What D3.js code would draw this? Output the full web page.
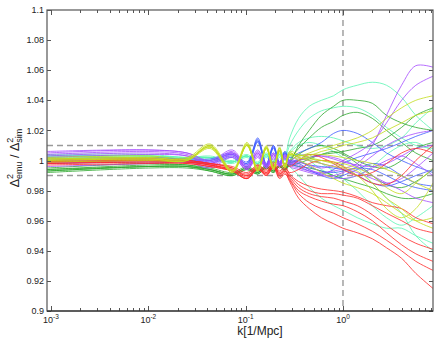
<!DOCTYPE html>
<html><head><meta charset="utf-8">
<script src="https://cdn.jsdelivr.net/npm/d3@7"></script>
<style>body{margin:0;background:#fff} text{font-family:"Liberation Sans",Arial,Helvetica,sans-serif;fill:#222}</style>
</head><body>
<svg id="c" width="436" height="342"></svg>
<script>
// k grid [1/Mpc]
const kValues = [0.00091, 0.01, 0.025, 0.043, 0.073, 0.103, 0.133, 0.163, 0.193, 0.223, 0.253, 0.283, 0.35, 0.45, 0.6, 0.8, 1.0, 1.4, 2.0, 2.8, 4.0, 5.6, 8.41];

const redLines = [
  [0.999, 1.000, 0.999, 0.997, 0.993, 0.988, 0.995, 0.990, 0.996, 0.989, 0.992, 0.986, 0.975, 0.968, 0.962, 0.958, 0.955, 0.952, 0.948, 0.942, 0.935, 0.925, 0.915],
  [0.998, 0.999, 0.998, 0.996, 0.993, 0.988, 0.994, 0.990, 0.995, 0.988, 0.991, 0.987, 0.978, 0.972, 0.968, 0.965, 0.962, 0.958, 0.953, 0.947, 0.940, 0.933, 0.927],
  [1.000, 1.001, 1.000, 0.998, 0.995, 0.990, 0.996, 0.992, 0.997, 0.991, 0.994, 0.988, 0.980, 0.976, 0.973, 0.971, 0.970, 0.966, 0.960, 0.952, 0.944, 0.938, 0.933],
  [0.999, 1.000, 0.999, 0.997, 0.994, 0.989, 0.995, 0.991, 0.997, 0.991, 0.993, 0.989, 0.982, 0.978, 0.976, 0.975, 0.973, 0.970, 0.964, 0.957, 0.950, 0.945, 0.941],
  [0.997, 0.998, 0.998, 0.996, 0.993, 0.988, 0.994, 0.991, 0.996, 0.990, 0.993, 0.990, 0.984, 0.980, 0.978, 0.978, 0.977, 0.975, 0.970, 0.965, 0.960, 0.955, 0.952],
  [1.000, 1.001, 1.000, 0.998, 0.995, 0.991, 0.997, 0.993, 0.998, 0.993, 0.996, 0.991, 0.986, 0.983, 0.981, 0.980, 0.979, 0.976, 0.972, 0.970, 0.968, 0.962, 0.958],
  [0.998, 0.999, 0.999, 0.997, 0.994, 0.990, 0.995, 0.992, 0.997, 0.992, 0.995, 0.992, 0.994, 0.998, 1.000, 0.999, 0.996, 0.990, 0.985, 0.984, 0.990, 1.000, 1.010],
  [0.999, 1.000, 1.000, 0.998, 0.996, 0.992, 0.997, 0.994, 0.999, 0.995, 0.998, 0.996, 1.000, 1.004, 1.002, 0.998, 0.994, 0.990, 0.992, 0.998, 1.005, 1.008, 1.005]
];
const yellowLines = [
  [1.001, 1.002, 1.001, 1.010, 0.993, 1.011, 0.994, 1.009, 0.995, 1.008, 0.996, 1.005, 1.002, 1.000, 0.998, 0.996, 0.995, 0.990, 0.980, 0.968, 0.962, 0.968, 0.985],
  [1.000, 1.001, 1.000, 1.009, 0.992, 1.010, 0.993, 1.008, 0.994, 1.007, 0.995, 1.004, 1.003, 1.005, 1.008, 1.010, 1.012, 1.015, 1.020, 1.028, 1.035, 1.040, 1.043],
  [1.002, 1.003, 1.002, 1.011, 0.994, 1.012, 0.995, 1.010, 0.996, 1.009, 0.997, 1.006, 1.004, 1.002, 1.000, 0.998, 0.996, 0.993, 0.985, 0.975, 0.968, 0.960, 0.955],
  [1.001, 1.002, 1.001, 1.009, 0.993, 1.010, 0.994, 1.009, 0.995, 1.007, 0.996, 1.004, 1.000, 0.997, 0.992, 0.988, 0.985, 0.982, 0.978, 0.972, 0.965, 0.960, 0.962],
  [0.999, 1.000, 1.000, 1.008, 0.992, 1.010, 0.993, 1.008, 0.994, 1.006, 0.995, 1.003, 1.001, 1.003, 1.006, 1.008, 1.010, 1.012, 1.015, 1.020, 1.025, 1.030, 1.033],
  [1.000, 1.001, 1.000, 1.010, 0.993, 1.011, 0.994, 1.009, 0.995, 1.008, 0.996, 1.005, 1.002, 1.001, 1.000, 0.999, 0.998, 0.995, 0.990, 0.982, 0.978, 0.985, 0.995],
  [1.001, 1.001, 1.001, 1.009, 0.993, 1.010, 0.993, 1.008, 0.995, 1.007, 0.996, 1.004, 1.003, 1.004, 1.004, 1.003, 1.002, 1.000, 0.998, 0.994, 0.990, 0.985, 0.980]
];
const purpleLines = [
  [1.005, 1.007, 1.005, 0.999, 1.006, 0.996, 1.006, 0.997, 1.005, 0.998, 1.004, 0.999, 1.001, 1.000, 0.998, 0.996, 0.995, 0.998, 1.010, 1.030, 1.050, 1.063, 1.062],
  [1.004, 1.006, 1.004, 0.998, 1.005, 0.995, 1.005, 0.996, 1.004, 0.997, 1.003, 0.998, 0.999, 0.997, 0.995, 0.997, 1.000, 1.005, 1.012, 1.025, 1.040, 1.050, 1.056],
  [1.003, 1.005, 1.003, 0.997, 1.004, 0.995, 1.004, 0.996, 1.003, 0.997, 1.002, 0.996, 0.994, 0.992, 0.990, 0.990, 0.992, 0.996, 1.003, 1.010, 1.015, 1.018, 1.020],
  [0.998, 1.000, 1.000, 0.996, 1.003, 0.994, 1.003, 0.995, 1.002, 0.996, 1.002, 0.997, 0.995, 0.993, 0.992, 0.993, 0.994, 0.992, 0.988, 0.985, 0.988, 0.995, 1.005],
  [0.996, 0.998, 0.999, 0.995, 1.002, 0.994, 1.002, 0.995, 1.001, 0.996, 1.001, 0.998, 1.000, 1.002, 1.003, 1.002, 1.000, 0.996, 0.990, 0.985, 0.980, 0.975, 0.972],
  [1.006, 1.007, 1.005, 1.000, 1.007, 0.997, 1.007, 0.998, 1.005, 0.999, 1.004, 1.000, 1.003, 1.004, 1.003, 1.001, 0.999, 0.997, 0.996, 0.998, 1.003, 1.008, 1.010],
  [1.002, 1.004, 1.003, 0.998, 1.005, 0.995, 1.005, 0.996, 1.004, 0.997, 1.003, 0.998, 0.997, 0.994, 0.991, 0.989, 0.988, 0.990, 0.995, 1.000, 1.003, 0.998, 0.990]
];
const blueLines = [
  [1.000, 1.001, 1.000, 1.000, 1.004, 0.998, 1.015, 0.997, 1.010, 0.998, 1.006, 1.000, 1.000, 0.996, 0.993, 0.992, 0.993, 0.995, 0.994, 0.990, 0.985, 0.982, 0.980],
  [0.999, 1.000, 0.999, 0.999, 1.003, 0.997, 1.013, 0.996, 1.009, 0.997, 1.005, 0.999, 0.998, 0.994, 0.990, 0.988, 0.990, 0.994, 0.998, 0.996, 0.990, 0.985, 0.983],
  [1.001, 1.002, 1.001, 1.001, 1.005, 0.999, 1.014, 0.998, 1.010, 0.999, 1.006, 1.002, 1.005, 1.008, 1.012, 1.018, 1.020, 1.018, 1.012, 1.005, 1.000, 0.996, 0.992],
  [0.998, 0.999, 0.999, 0.998, 1.002, 0.996, 1.012, 0.996, 1.008, 0.997, 1.004, 0.998, 0.996, 0.993, 0.991, 0.994, 0.998, 1.002, 1.005, 1.008, 1.012, 1.016, 1.020],
  [1.000, 1.001, 1.000, 1.000, 1.004, 0.998, 1.013, 0.997, 1.009, 0.998, 1.005, 1.000, 0.999, 0.997, 0.996, 0.995, 0.994, 0.990, 0.985, 0.983, 0.986, 0.990, 0.994]
];
const greenLines = [
  [0.993, 0.996, 0.996, 0.993, 0.990, 0.994, 0.991, 0.995, 0.992, 0.996, 0.993, 0.998, 1.010, 1.020, 1.030, 1.036, 1.040, 1.040, 1.038, 1.030, 1.025, 1.022, 1.020],
  [0.994, 0.997, 0.997, 0.994, 0.991, 0.995, 0.992, 0.996, 0.993, 0.997, 0.995, 1.000, 1.008, 1.015, 1.022, 1.026, 1.030, 1.032, 1.028, 1.020, 1.012, 1.005, 1.000],
  [0.992, 0.995, 0.995, 0.993, 0.990, 0.994, 0.991, 0.995, 0.992, 0.996, 0.994, 0.998, 1.000, 1.002, 1.004, 1.005, 1.006, 1.008, 1.010, 1.015, 1.022, 1.030, 1.035],
  [0.995, 0.998, 0.997, 0.995, 0.992, 0.996, 0.993, 0.997, 0.994, 0.997, 0.995, 0.997, 0.996, 0.995, 0.993, 0.990, 0.988, 0.985, 0.982, 0.978, 0.975, 0.975, 0.978],
  [0.994, 0.996, 0.996, 0.994, 0.991, 0.995, 0.992, 0.996, 0.993, 0.996, 0.994, 0.999, 1.004, 1.008, 1.010, 1.008, 1.005, 1.000, 0.996, 0.995, 1.000, 1.008, 1.012],
  [0.993, 0.996, 0.996, 0.994, 0.991, 0.995, 0.992, 0.996, 0.993, 0.996, 0.994, 0.997, 0.998, 1.001, 1.004, 1.006, 1.004, 0.998, 0.990, 0.984, 0.982, 0.986, 0.994]
];
const aquaLines = [
  [1.004, 1.004, 1.002, 1.003, 1.000, 1.004, 0.999, 1.005, 1.000, 1.006, 1.004, 1.015, 1.028, 1.036, 1.040, 1.043, 1.047, 1.050, 1.052, 1.050, 1.042, 1.030, 1.020],
  [1.003, 1.003, 1.001, 1.002, 0.999, 1.003, 0.998, 1.004, 0.999, 1.005, 1.002, 1.010, 1.020, 1.028, 1.033, 1.035, 1.036, 1.035, 1.030, 1.022, 1.015, 1.010, 1.008],
  [1.002, 1.002, 1.001, 1.001, 0.998, 1.002, 0.997, 1.002, 0.998, 1.002, 0.998, 0.996, 0.990, 0.982, 0.975, 0.970, 0.967, 0.962, 0.958, 0.955, 0.955, 0.950, 0.945],
  [1.001, 1.002, 1.001, 1.002, 0.999, 1.003, 0.998, 1.003, 0.999, 1.003, 1.000, 1.002, 1.004, 1.002, 0.998, 0.993, 0.988, 0.980, 0.970, 0.962, 0.957, 0.962, 0.970],
  [1.003, 1.003, 1.002, 1.002, 0.999, 1.003, 0.998, 1.004, 0.999, 1.004, 1.001, 1.005, 1.010, 1.012, 1.010, 1.006, 1.002, 0.995, 0.985, 0.975, 0.965, 0.950, 0.940],
  [1.002, 1.003, 1.001, 1.002, 0.999, 1.003, 0.998, 1.003, 0.999, 1.004, 1.001, 1.006, 1.012, 1.015, 1.016, 1.015, 1.013, 1.010, 1.008, 1.010, 1.015, 1.025, 1.035],
  [1.003, 1.003, 1.002, 1.002, 0.999, 1.003, 0.998, 1.004, 0.999, 1.004, 1.001, 1.003, 1.004, 1.000, 0.994, 0.990, 0.988, 0.990, 0.996, 1.004, 1.010, 1.012, 1.006]
];

const yTicks = [0.9, 0.92, 0.94, 0.96, 0.98, 1.0, 1.02, 1.04, 1.06, 1.08, 1.1];
const xMajorTicks = [0.001, 0.01, 0.1, 1];
const xTickExponents = ["-3", "-2", "-1", "0"];
const refLevels = [0.99, 1.01];
const refK = 1;
const xLabel = "k[1/Mpc]";

const groups = [
  {lines: aquaLines, color: "#5cf5b4"},
  {lines: greenLines, color: "#2fa82f"},
  {lines: blueLines, color: "#3f5cff"},
  {lines: purpleLines, color: "#a64dff"},
  {lines: redLines, color: "#ff2a2a"},
  {lines: yellowLines, color: "#c2dc1e"}
];

const L = 47, R = 433, T = 10, B = 311;
const svg = d3.select("#c");
const x = d3.scaleLog().domain(d3.extent(kValues)).range([L, R]);
const y = d3.scaleLinear().domain([0.9, 1.1]).range([B, T]);

svg.append("defs").append("clipPath").attr("id", "clip")
  .append("rect").attr("x", L).attr("y", T).attr("width", R - L).attr("height", B - T);

const plot = svg.append("g").attr("clip-path", "url(#clip)");

plot.selectAll("line.ref").data(refLevels).join("line").attr("class", "ref")
  .attr("x1", L).attr("x2", R).attr("y1", d => y(d)).attr("y2", d => y(d))
  .attr("stroke", "#9a9a9a").attr("stroke-width", 1.4).attr("stroke-dasharray", "6,4");
plot.append("line").attr("x1", x(refK)).attr("x2", x(refK)).attr("y1", T).attr("y2", B)
  .attr("stroke", "#9a9a9a").attr("stroke-width", 1.4).attr("stroke-dasharray", "6,4");

const line = d3.line().x((d, i) => x(kValues[i])).y(d => y(d)).curve(d3.curveCatmullRom.alpha(0.5));
groups.forEach(g => {
  plot.append("g").selectAll("path").data(g.lines).join("path")
    .attr("d", line).attr("fill", "none").attr("stroke", g.color)
    .attr("stroke-width", 0.9).attr("stroke-opacity", 0.9);
});

const ax = svg.append("g").attr("stroke", "#555").attr("fill", "none");
ax.append("rect").attr("x", L).attr("y", T).attr("width", R - L).attr("height", B - T).attr("stroke-width", 1.2);
svg.append("line").attr("x1", L).attr("x2", R).attr("y1", B).attr("y2", B).attr("stroke", "#222").attr("stroke-width", 1.2);

yTicks.forEach(v => {
  const yy = Math.round(y(v)) + 0.5;
  ax.append("line").attr("x1", L).attr("x2", L + 4).attr("y1", yy).attr("y2", yy);
  ax.append("line").attr("x1", R - 4).attr("x2", R).attr("y1", yy).attr("y2", yy);
  svg.append("text").attr("x", L - 3).attr("y", y(v)).attr("dy", "0.35em")
    .attr("text-anchor", "end").attr("font-size", 9).text(String(+v.toFixed(2)));
});

const [kMin, kMax] = x.domain();
for (let e = -4; e <= 1; e++) {
  for (let m = 1; m <= 9; m++) {
    const k = m * Math.pow(10, e);
    if (k < kMin || k > kMax) continue;
    const len = m === 1 ? 5 : 3;
    const xx = Math.round(x(k)) + 0.5;
    ax.append("line").attr("x1", xx).attr("x2", xx).attr("y1", B).attr("y2", B - len);
    ax.append("line").attr("x1", xx).attr("x2", xx).attr("y1", T).attr("y2", T + len);
  }
}
xMajorTicks.forEach((k, i) => {
  const t = svg.append("text").attr("x", x(k)).attr("y", 323).attr("text-anchor", "middle").attr("font-size", 9);
  t.append("tspan").text("10");
  t.append("tspan").attr("font-size", 6.5).attr("dy", -4).text(xTickExponents[i]);
});

svg.append("text").attr("x", 260).attr("y", 335).attr("text-anchor", "middle").attr("font-size", 12).text(xLabel);

const yl = svg.append("text").attr("transform", "translate(19,158) rotate(-90)").attr("text-anchor", "middle").attr("font-size", 12.5);
yl.append("tspan").text("\u0394");
yl.append("tspan").attr("font-size", 9).attr("dy", -6).text("2");
yl.append("tspan").attr("font-size", 9).attr("dx", -5).attr("dy", 9).text("emu");
yl.append("tspan").attr("dy", -3).text(" / ");
yl.append("tspan").text("\u0394");
yl.append("tspan").attr("font-size", 9).attr("dy", -6).text("2");
yl.append("tspan").attr("font-size", 9).attr("dx", -5).attr("dy", 9).text("sim");
</script>
</body></html>
